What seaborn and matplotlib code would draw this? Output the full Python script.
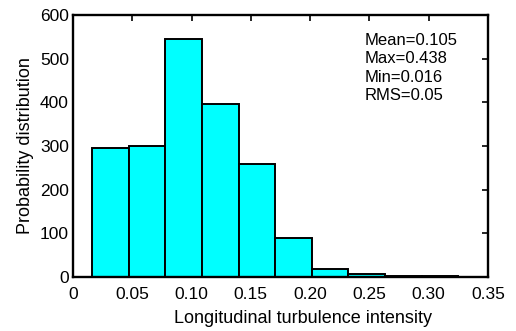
import matplotlib
matplotlib.use("Agg")
import matplotlib.pyplot as plt
import seaborn as sns
import pandas as pd

# Data
bin_edges = [0.016, 0.0469, 0.0778, 0.1087, 0.1396, 0.1705, 0.2014, 0.2323, 0.2632, 0.2941, 0.325]
counts = [295, 300, 546, 396, 258, 89, 18, 7, 3, 2]
x_ticks = [0, 0.05, 0.10, 0.15, 0.20, 0.25, 0.30, 0.35]
x_tick_labels = ["0", "0.05", "0.10", "0.15", "0.20", "0.25", "0.30", "0.35"]
y_ticks = [0, 100, 200, 300, 400, 500, 600]
stats_text = ["Mean=0.105", "Max=0.438", "Min=0.016", "RMS=0.05"]

centers = [(bin_edges[i] + bin_edges[i + 1]) / 2 for i in range(len(counts))]
df = pd.DataFrame({"value": centers, "count": counts})

sns.set_theme(style="white")
plt.rcParams["font.family"] = ["Liberation Sans", "DejaVu Sans"]
for k in ["text.color", "axes.labelcolor", "xtick.color", "ytick.color"]:
    plt.rcParams[k] = "black"

fig = plt.figure(figsize=(5.16, 3.31), dpi=100)
ax = fig.add_axes([73 / 516, 1 - 277 / 331, (488 - 73) / 516, (277 - 15) / 331])

sns.histplot(data=df, x="value", weights="count", bins=bin_edges, ax=ax,
             color="#00FFFF", alpha=1.0, edgecolor="black", linewidth=1.4)

ax.set_xlim(0, 0.35)
ax.set_ylim(0, 600)
ax.set_xticks(x_ticks)
ax.set_xticklabels(x_tick_labels)
ax.set_yticks(y_ticks)
ax.tick_params(direction="in", length=4, width=1.2, top=True, right=True,
               labelsize=12.5, colors="black")
ax.tick_params(axis="x", pad=7)
ax.tick_params(axis="y", pad=3)
for s in ax.spines.values():
    s.set_visible(True)
    s.set_color("black")
    s.set_linewidth(1.7)

ax.set_xlabel("Longitudinal turbulence intensity", fontsize=13)
ax.xaxis.set_label_coords(0.554, -0.125)
ax.set_ylabel("Probability distribution", fontsize=13, labelpad=4)

line_step = 18.3 / 262
first_baseline = (277 - 45) / 262
for i, line in enumerate(stats_text):
    ax.text(0.703, first_baseline - i * line_step, line, transform=ax.transAxes,
            ha="left", va="baseline", fontsize=12, color="black")

fig.savefig("out.png", dpi=100)
